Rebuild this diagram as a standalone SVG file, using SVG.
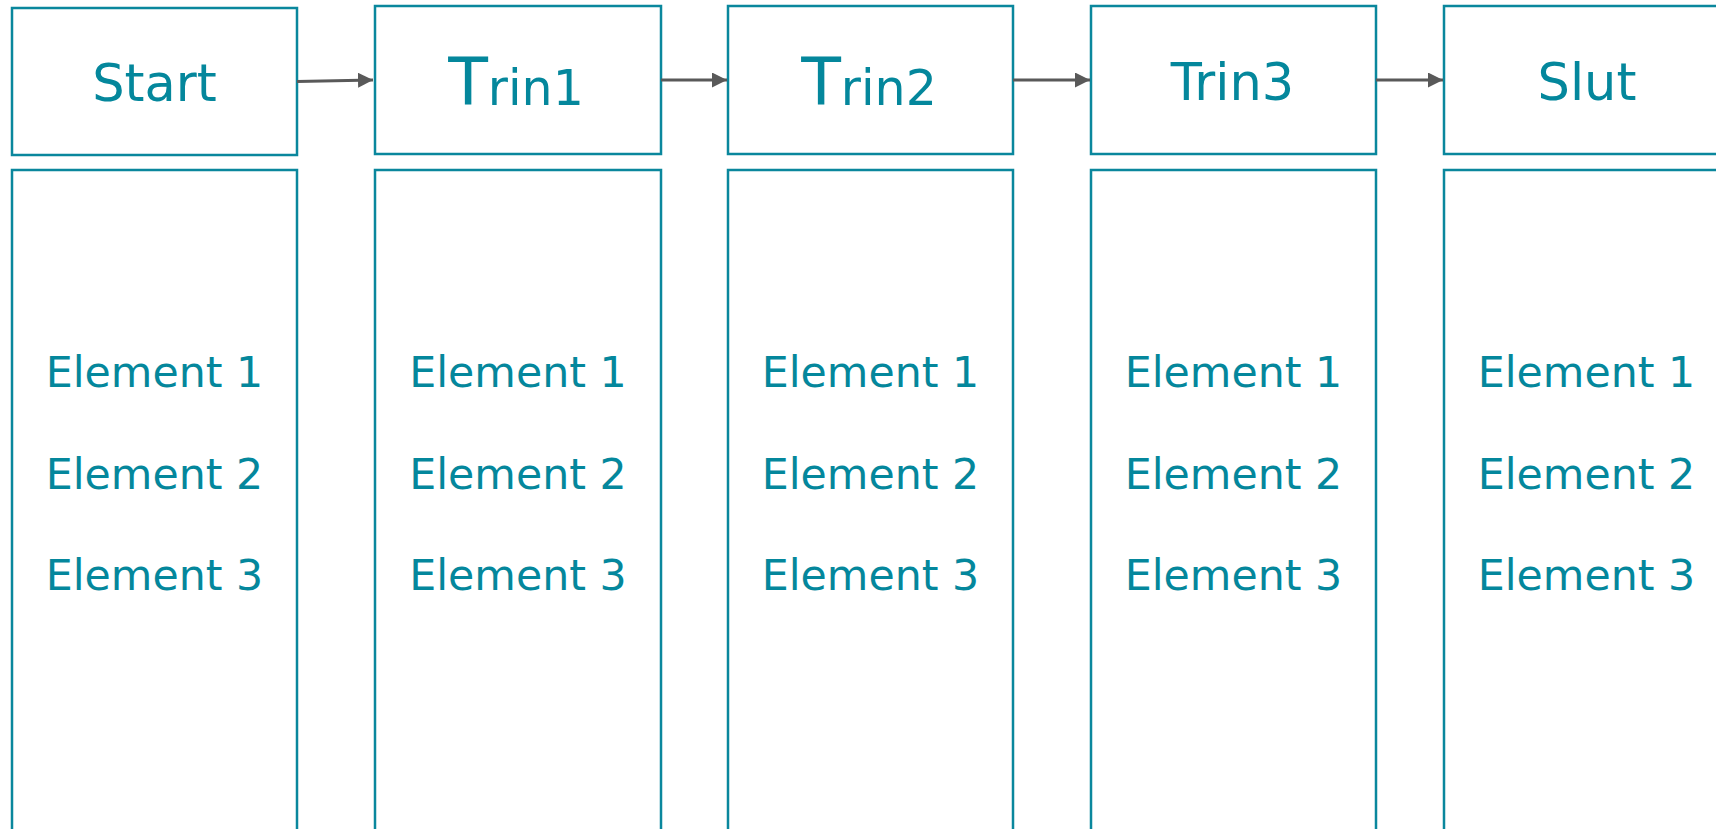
<svg xmlns="http://www.w3.org/2000/svg" width="1716" height="829" viewBox="0 0 1716 829">
<defs>
<style>
.box{fill:#fff;stroke:#0A879D;stroke-width:2.5}
.t{font-family:"DejaVu Sans","Verdana",sans-serif;fill:#04879C;text-anchor:middle}
.h{font-size:51px}
.e{font-size:42.7px}
.con{stroke:#595959;stroke-width:3;fill:none;marker-end:url(#arr)}
</style>
<marker id="arr" markerUnits="userSpaceOnUse" markerWidth="16" markerHeight="16" refX="15" refY="7.5" orient="auto">
<path d="M0,0 L15,7.5 L0,15 Z" fill="#595959"/>
</marker>
</defs>
<rect width="1716" height="829" fill="#fff"/>
<g id="start">
<rect class="box" x="12" y="8" width="285" height="147"/>
<text class="t h" x="154.5" y="100.5">Start</text>
</g>
<g id="start-list">
<rect class="box" x="12" y="170" width="285" height="700"/>
<text class="t e" x="154.5" y="387">Element 1</text>
<text class="t e" x="154.5" y="488.5">Element 2</text>
<text class="t e" x="154.5" y="590">Element 3</text>
</g>
<g id="trin1">
<rect class="box" x="375" y="6" width="286" height="148"/>
<text class="t" x="516" y="105"><tspan font-size="65">T</tspan><tspan font-size="49">rin1</tspan></text>
</g>
<g id="trin1-list">
<rect class="box" x="375" y="170" width="286" height="700"/>
<text class="t e" x="518" y="387">Element 1</text>
<text class="t e" x="518" y="488.5">Element 2</text>
<text class="t e" x="518" y="590">Element 3</text>
</g>
<g id="trin2">
<rect class="box" x="728" y="6" width="285" height="148"/>
<text class="t" x="869" y="105"><tspan font-size="65">T</tspan><tspan font-size="49">rin2</tspan></text>
</g>
<g id="trin2-list">
<rect class="box" x="728" y="170" width="285" height="700"/>
<text class="t e" x="870.5" y="387">Element 1</text>
<text class="t e" x="870.5" y="488.5">Element 2</text>
<text class="t e" x="870.5" y="590">Element 3</text>
</g>
<g id="trin3">
<rect class="box" x="1091" y="6" width="285" height="148"/>
<text class="t h" x="1232.5" y="100">Trin3</text>
</g>
<g id="trin3-list">
<rect class="box" x="1091" y="170" width="285" height="700"/>
<text class="t e" x="1233.5" y="387">Element 1</text>
<text class="t e" x="1233.5" y="488.5">Element 2</text>
<text class="t e" x="1233.5" y="590">Element 3</text>
</g>
<g id="slut">
<rect class="box" x="1444" y="6" width="285" height="148"/>
<text class="t h" x="1587" y="100">Slut</text>
</g>
<g id="slut-list">
<rect class="box" x="1444" y="170" width="285" height="700"/>
<text class="t e" x="1586.5" y="387">Element 1</text>
<text class="t e" x="1586.5" y="488.5">Element 2</text>
<text class="t e" x="1586.5" y="590">Element 3</text>
</g>
<g id="connectors">
<path class="con" d="M297,81.5 L373,80"/>
<path class="con" d="M661,80 L727,80"/>
<path class="con" d="M1013,80 L1090,80"/>
<path class="con" d="M1376,80 L1443,80"/>
</g>
</svg>
